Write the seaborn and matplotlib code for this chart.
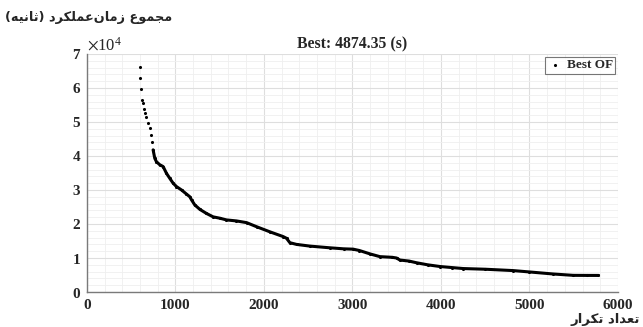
import numpy as np
import pandas as pd
import matplotlib
matplotlib.use("Agg")
import matplotlib.pyplot as plt
from matplotlib.ticker import MultipleLocator, ScalarFormatter
import seaborn as sns

# Best objective value per iteration
iterations = [600, 605, 612, 624, 635, 646, 657, 673, 692, 712, 728, 740, 749, 768,
              787, 825, 862, 900, 938, 975, 1013, 1070, 1126, 1164, 1183, 1220, 1277,
              1352, 1427, 1503, 1578, 1691, 1805, 1918, 2068, 2218, 2256, 2294, 2369,
              2520, 2746, 2900, 3009, 3080, 3200, 3311, 3450, 3499, 3537, 3640, 3725,
              3850, 3989, 4120, 4252, 4500, 4817, 5000, 5269, 5495, 5650, 5780]
best_of = [66300, 62900, 59600, 56500, 55500, 53700, 52600, 51400, 49600, 48100, 46200,
           44200, 41800, 39300, 38300, 37400, 36900, 34900, 33400, 32000, 31000, 30000,
           28800, 28000, 27100, 25600, 24300, 23100, 22100, 21700, 21200, 20900, 20400,
           19200, 17700, 16300, 15800, 14500, 14000, 13500, 13000, 12700, 12600, 12200,
           11200, 10400, 10200, 10000, 9400, 9100, 8600, 8000, 7500, 7200, 6900, 6700,
           6300, 5900, 5300, 4900, 4880, 4874.35]

title_text = "Best: 4874.35 (s)"
legend_label = "Best OF"
ylabel_text = "مجموع زمان\u200cعملکرد (ثانیه)"
xlabel_text = "تعداد تکرار"

# Contextual forms for the Persian letters used (iso, fin, ini, med); None = right-joining only
FORMS = {
    "\u0645": ("\uFEE1", "\uFEE2", "\uFEE3", "\uFEE4"),
    "\u062C": ("\uFE9D", "\uFE9E", "\uFE9F", "\uFEA0"),
    "\u0648": ("\uFEED", "\uFEEE", None, None),
    "\u0639": ("\uFEC9", "\uFECA", "\uFECB", "\uFECC"),
    "\u0632": ("\uFEAF", "\uFEB0", None, None),
    "\u0627": ("\uFE8D", "\uFE8E", None, None),
    "\u0646": ("\uFEE5", "\uFEE6", "\uFEE7", "\uFEE8"),
    "\u0644": ("\uFEDD", "\uFEDE", "\uFEDF", "\uFEE0"),
    "\u06A9": ("\uFB8E", "\uFB8F", "\uFB90", "\uFB91"),
    "\u0631": ("\uFEAD", "\uFEAE", None, None),
    "\u062F": ("\uFEA9", "\uFEAA", None, None),
    "\u062B": ("\uFE99", "\uFE9A", "\uFE9B", "\uFE9C"),
    "\u06CC": ("\uFBFC", "\uFBFD", "\uFBFE", "\uFBFF"),
    "\u0647": ("\uFEE9", "\uFEEA", "\uFEEB", "\uFEEC"),
    "\u062A": ("\uFE95", "\uFE96", "\uFE97", "\uFE98"),
}


def shape_rtl(text):
    chars = list(text)
    out = []
    for i, c in enumerate(chars):
        if c not in FORMS:
            if c != "\u200c":
                out.append(c)
            continue
        prev = chars[i - 1] if i > 0 else None
        nxt = chars[i + 1] if i + 1 < len(chars) else None
        joins_prev = prev in FORMS and FORMS[prev][2] is not None
        joins_next = nxt in FORMS and FORMS[c][2] is not None
        iso, fin, ini, med = FORMS[c]
        if joins_prev and joins_next:
            out.append(med)
        elif joins_prev:
            out.append(fin)
        elif joins_next:
            out.append(ini)
        else:
            out.append(iso)
    mirror = {"(": ")", ")": "("}
    return "".join(mirror.get(c, c) for c in reversed(out))


df = pd.DataFrame({"iteration": iterations, "best": best_of})

sns.set_theme(style="white")
plt.rcParams["font.family"] = ["Liberation Serif", "DejaVu Sans"]
plt.rcParams["mathtext.fontset"] = "stix"

fig = plt.figure(figsize=(6.43, 3.27), dpi=100)
ax = fig.add_axes([0.135, 0.107, 0.826, 0.728])

# continuous trace through the dense part, dots for every recorded best
sns.lineplot(data=df[df["iteration"] >= 749], x="iteration", y="best", ax=ax,
             color="black", linewidth=2.2, legend=False)
sns.scatterplot(data=df, x="iteration", y="best", ax=ax, color="black", s=5,
                linewidth=0, marker="o", label=legend_label)

ax.set_xlim(0, 6000)
ax.set_ylim(0, 70000)
ax.xaxis.set_major_locator(MultipleLocator(1000))
ax.xaxis.set_minor_locator(MultipleLocator(200))
ax.yaxis.set_major_locator(MultipleLocator(10000))
ax.yaxis.set_minor_locator(MultipleLocator(2000))
fmt = ScalarFormatter(useMathText=True)
fmt.set_powerlimits((0, 0))
ax.yaxis.set_major_formatter(fmt)
ax.yaxis.get_offset_text().set_fontsize(12)

ax.grid(which="major", color="#dedede", linewidth=0.8)
ax.grid(which="minor", color="#efefef", linewidth=0.6)
ax.set_axisbelow(True)

for side in ("top", "right"):
    ax.spines[side].set_visible(False)
for side in ("left", "bottom"):
    ax.spines[side].set_color("#7a7a7a")
    ax.spines[side].set_linewidth(1.0)

ax.tick_params(axis="both", which="major", direction="in", length=3, width=0.8,
               color="#7a7a7a", labelsize=11)
ax.tick_params(axis="x", which="major", pad=5)
ax.tick_params(axis="y", which="major", pad=4)
ax.tick_params(axis="both", which="minor", length=0)
for lbl in ax.get_xticklabels() + ax.get_yticklabels():
    lbl.set_fontweight("bold")

ax.set_xlabel("")
ax.set_ylabel("")
ax.set_title(title_text, fontsize=11.3, fontweight="bold", pad=4)

leg = ax.legend(loc="upper right", fontsize=9.5, frameon=True, fancybox=False,
                edgecolor="#555555", borderaxespad=0.2, handletextpad=0.4,
                handlelength=1.0, borderpad=0.2, markerscale=1.0)
leg.get_frame().set_linewidth(0.8)
for t in leg.get_texts():
    t.set_fontweight("bold")

fig.text(0.008, 0.945, shape_rtl(ylabel_text), family="DejaVu Sans",
         fontweight="bold", fontsize=9.3, ha="left", va="center")
fig.text(0.995, 0.042, shape_rtl(xlabel_text), family="DejaVu Sans",
         fontweight="bold", fontsize=9.5, ha="right", va="top")

fig.savefig("out.png", dpi=100)
